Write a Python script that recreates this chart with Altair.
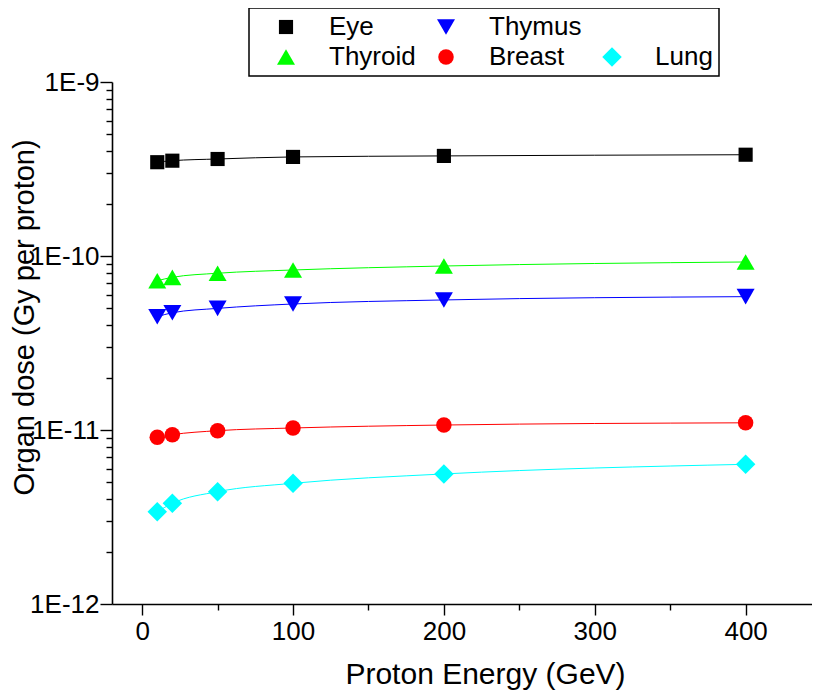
import altair as alt
import pandas as pd

# ---- data ----
energy = [10, 20, 50, 100, 200, 400]
eye = [3.46e-10, 3.53e-10, 3.61e-10, 3.71e-10, 3.76e-10, 3.82e-10]
thyroid = [7.21e-11, 7.54e-11, 7.96e-11, 8.31e-11, 8.76e-11, 9.24e-11]
thymus = [4.48e-11, 4.72e-11, 5.00e-11, 5.30e-11, 5.59e-11, 5.84e-11]
breast = [9.08e-12, 9.40e-12, 9.91e-12, 1.027e-11, 1.068e-11, 1.10e-11]
lung = [3.39e-12, 3.79e-12, 4.42e-12, 4.94e-12, 5.59e-12, 6.35e-12]

# legend order (a blank slot keeps "Lung" in the third column of row two)
organs = ["Eye", "Thymus", " ", "Thyroid", "Breast", "Lung"]
colors = ["#000000", "#0000ff", "transparent", "#00ff00", "#ff0000", "#00ffff"]
shapes = ["square", "triangle-down", "circle", "triangle-up", "circle", "diamond"]
sizes = [200, 324, 10, 324, 240, 380]

x_ticks = [0, 50, 100, 150, 200, 250, 300, 350, 400]
y_ticks = [m * 10.0 ** k for k in (-12, -11, -10) for m in range(1, 10)] + [1e-9]

series = {"Eye": eye, "Thyroid": thyroid, "Thymus": thymus, "Breast": breast, "Lung": lung}
rows = []
for name, vals in series.items():
    for e, v in zip(energy, vals):
        rows.append({"organ": name, "energy": e, "dose": v})
df = pd.DataFrame(rows)

FONT = "Liberation Sans"
decade = "abs(log(datum.value)/LN10 - round(log(datum.value)/LN10)) < 0.001"

x_enc = alt.X(
    "energy:Q",
    scale=alt.Scale(domain=[-20, 444], nice=False, zero=False),
    axis=alt.Axis(
        values=x_ticks,
        labelExpr="datum.value % 100 === 0 ? datum.label : ''",
        tickSize={"condition": {"test": "datum.value % 100 === 0", "value": 11}, "value": 6},
        labelPadding=3,
        title="Proton Energy (GeV)",
        titleFontSize=30,
        titleX=373,
        titleY=79,
        titleBaseline="alphabetic",
    ),
)
y_enc = alt.Y(
    "dose:Q",
    scale=alt.Scale(type="log", domain=[1e-12, 1e-9], nice=False),
    axis=alt.Axis(
        values=y_ticks,
        labelExpr=decade + " ? '1E' + round(log(datum.value)/LN10) : ''",
        tickSize={"condition": {"test": decade, "value": 12}, "value": 6},
        labelPadding=1,
        title="Organ dose (Gy per proton)",
        titleFontSize=29,
        titleX=-79,
        titleY=235,
        titleBaseline="alphabetic",
    ),
)

color_scale = alt.Scale(domain=organs, range=colors)
shape_scale = alt.Scale(domain=organs, range=shapes)

legend = alt.Legend(
    orient="none",
    legendX=137,
    legendY=-74,
    direction="horizontal",
    columns=3,
    title=" ",
    titleOrient="left",
    titleFontSize=2,
    titlePadding=18,
    labelFont=FONT,
    labelFontSize=26,
    labelColor="black",
    labelOffset=30,
    labelLimit=0,
    symbolSize=250,
    symbolStrokeWidth=0,
    symbolOpacity=1,
    columnPadding=17,
    rowPadding=4,
    padding=6,
)

base = alt.Chart(df)

lines = base.mark_line(strokeWidth=1, interpolate="monotone").encode(
    x=x_enc,
    y=y_enc,
    color=alt.Color("organ:N", scale=color_scale, legend=legend),
    detail="organ:N",
)

points = base.mark_point(filled=True, opacity=1, strokeWidth=0).encode(
    x=x_enc,
    y=y_enc,
    color=alt.Color("organ:N", scale=color_scale, legend=legend),
    shape=alt.Shape("organ:N", scale=shape_scale, legend=legend),
    size=alt.Size("organ:N", scale=alt.Scale(type="ordinal", domain=organs, range=sizes), legend=None),
)

chart = (
    alt.layer(lines, points)
    .properties(
        width=700,
        height=522,
        padding={"left": 104, "top": 74, "right": 0, "bottom": 90},
        autosize=alt.AutoSizeParams(type="none"),
        background="white",
    )
    .configure_view(stroke="transparent")
    .configure_legend(strokeColor="black", strokeWidth=1.5)
    .configure_axis(
        grid=False,
        domainColor="black",
        domainWidth=1.6,
        tickColor="black",
        tickWidth=1.4,
        labelFont=FONT,
        labelFontSize=26,
        labelColor="black",
        titleFont=FONT,
        titleFontWeight="normal",
        titleColor="black",
    )
)

chart.save("out.html", embed_options={"renderer": "svg", "actions": False})
